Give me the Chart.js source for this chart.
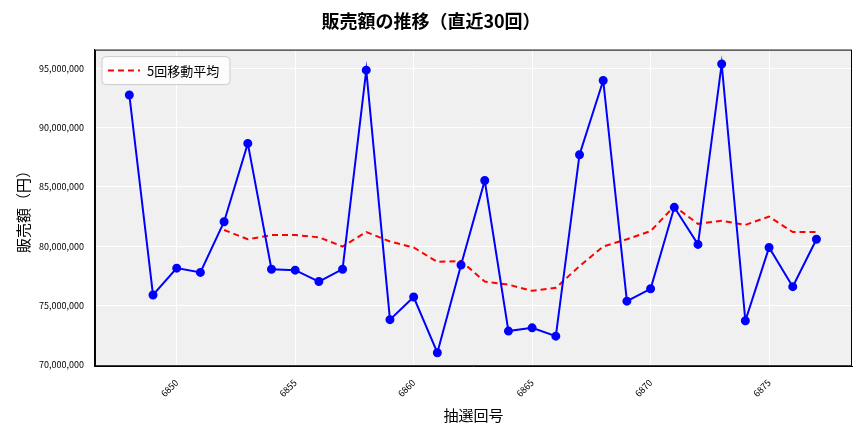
<!DOCTYPE html>
<html lang="ja">
<head>
<meta charset="UTF-8">
<title>販売額の推移</title>
<script src="https://cdn.jsdelivr.net/npm/chart.js"></script>
<style>
  body { margin: 0; background: #fff; }
  .chart-wrapper { width: 864px; height: 432px; }
</style>
</head>
<body>
<div class="chart-wrapper"><canvas id="salesChart"></canvas></div>
<script>
    const draws = [6848,6849,6850,6851,6852,6853,6854,6855,6856,6857,6858,6859,6860,6861,6862,
                   6863,6864,6865,6866,6867,6868,6869,6870,6871,6872,6873,6874,6875,6876,6877];
    const sales = [92.74,75.9,78.16,77.8,82.07,88.66,78.07,77.99,77.03,78.07,94.83,73.82,75.73,71.04,78.42,
                   85.54,72.86,73.13,72.43,87.71,93.96,75.38,76.42,83.28,80.16,95.35,73.73,79.9,76.6,80.59];
    const movingAvg = [null,null,null,null,81.37,80.59,80.94,80.94,80.76,79.98,81.2,80.4,79.9,78.68,78.77,
                   77.03,76.77,76.25,76.5,78.33,79.98,80.59,81.28,83.37,81.89,82.15,81.8,82.5,81.2,81.2];

    const font = "'Noto Sans CJK JP', 'Noto Sans', sans-serif";

    // plot background, frame and the in-plot legend
    const plotBg = {
        id: 'plotBg',
        beforeDraw(chart) {
            const { ctx, chartArea: a } = chart;
            ctx.save();
            ctx.fillStyle = '#f0f0f0';
            ctx.fillRect(a.left, a.top, a.right - a.left, a.bottom - a.top);
            ctx.restore();
        },
        afterDraw(chart) {
            const { ctx, chartArea: a } = chart;
            ctx.save();
            ctx.strokeStyle = '#000';
            ctx.lineWidth = 1;
            ctx.strokeRect(a.left + 0.5, a.top + 0.5, a.right - a.left - 1, a.bottom - a.top - 1);
            // legend
            const x = a.left + 7, y = a.top + 7, w = 128, h = 28;
            ctx.fillStyle = 'rgba(255,255,255,0.8)';
            ctx.strokeStyle = '#cccccc';
            ctx.beginPath();
            ctx.roundRect(x, y, w, h, 4);
            ctx.fill();
            ctx.stroke();
            ctx.strokeStyle = '#ff0000';
            ctx.lineWidth = 2;
            ctx.setLineDash([6, 4]);
            ctx.beginPath();
            ctx.moveTo(x + 6, y + h / 2);
            ctx.lineTo(x + 38, y + h / 2);
            ctx.stroke();
            ctx.setLineDash([]);
            ctx.fillStyle = '#000';
            ctx.font = '13px ' + font;
            ctx.textBaseline = 'middle';
            ctx.fillText(chart.data.datasets[1].label, x + 45, y + h / 2);
            ctx.restore();
        }
    };

    new Chart(document.getElementById('salesChart'), {
        type: 'line',
        data: {
            datasets: [
                {
                    label: '販売額',
                    data: draws.map((d, i) => ({ x: d, y: sales[i] * 1e6 })),
                    borderColor: '#0000ff',
                    backgroundColor: '#0000ff',
                    borderWidth: 2,
                    pointRadius: 3.5,
                    tension: 0
                },
                {
                    label: '5回移動平均',
                    data: draws.map((d, i) => ({ x: d, y: movingAvg[i] === null ? null : movingAvg[i] * 1e6 })),
                    borderColor: '#ff0000',
                    borderWidth: 2,
                    borderDash: [6, 4],
                    pointRadius: 0,
                    tension: 0
                }
            ]
        },
        options: {
            responsive: true,
            maintainAspectRatio: false,
            animation: false,
            layout: { padding: { left: 10, right: 12, top: 6, bottom: 4 } },
            plugins: {
                title: {
                    display: true,
                    text: '販売額の推移（直近30回）',
                    font: { family: font, size: 18, weight: 'bold' },
                    color: '#000',
                    padding: { top: 4, bottom: 18 }
                },
                legend: { display: false }
            },
            scales: {
                x: {
                    type: 'linear',
                    min: 6846.55,
                    max: 6878.5,
                    afterBuildTicks: axis => {
                        axis.ticks = [6850, 6855, 6860, 6865, 6870, 6875].map(v => ({ value: v }));
                    },
                    ticks: { maxRotation: 45, minRotation: 45, color: '#000', font: { family: font, size: 9 },
                             callback: v => String(v) },
                    grid: { color: '#ffffff', lineWidth: 1 },
                    border: { color: '#000' },
                    title: { display: true, text: '抽選回号', color: '#000', font: { family: font, size: 15 } }
                },
                y: {
                    min: 69900000,
                    max: 96560000,
                    afterBuildTicks: axis => {
                        axis.ticks = [70, 75, 80, 85, 90, 95].map(v => ({ value: v * 1e6 }));
                    },
                    ticks: {
                        color: '#000',
                        font: { family: font, size: 9 },
                        callback: v => v.toLocaleString('en-US')
                    },
                    grid: { color: '#ffffff', lineWidth: 1 },
                    border: { color: '#000' },
                    title: { display: true, text: '販売額（円）', color: '#000', font: { family: font, size: 15 } }
                }
            }
        },
        plugins: [plotBg]
    });
</script>
</body>
</html>
